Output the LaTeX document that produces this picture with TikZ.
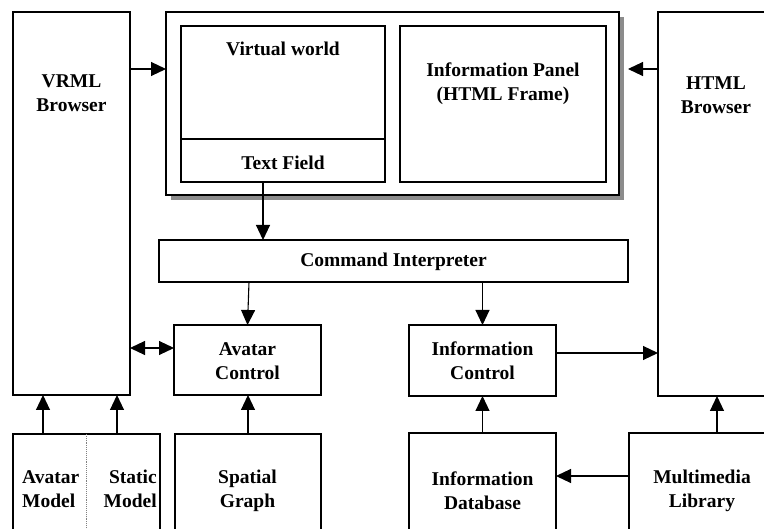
\documentclass[tikz,border=0pt]{standalone}
\usepackage{fontspec}
\setmainfont{Liberation Serif}
\usetikzlibrary{arrows.meta}
\begin{document}
\begin{tikzpicture}[x=1pt,y=-1pt,
  box/.style={draw, line width=1.1pt, inner sep=0pt, outer sep=0pt, fill=white},
  lbl/.style={align=center, inner sep=0pt, font=\bfseries\fontsize{19.5}{24}\selectfont},
  arr/.style={line width=1.1pt, -{Triangle[length=15pt,width=14pt]}},
  darr/.style={line width=1.1pt, {Triangle[length=15pt,width=14pt]}-{Triangle[length=15pt,width=14pt]}}
]
\useasboundingbox (0,0) rectangle (764,529);
\clip (0,0) rectangle (764,529);
% coordinates for connector rows
\coordinate (y69) at (0,69);
\coordinate (y348) at (0,348);
\coordinate (y353) at (0,353);
\coordinate (y476) at (0,476);
% boxes
\node[box, minimum width=117pt, minimum height=383pt] (vrml) at (71.5,203.5) {};
\fill[gray!90] (171,17) rectangle (624,200);
\node[box, minimum width=453pt, minimum height=183pt] (frame) at (392.5,103.5) {};
\node[box, minimum width=204pt, minimum height=156pt] (vw) at (283,104) {};
\node[box, minimum width=204pt, minimum height=43pt] (tf) at (283,160.5) {};
\node[box, minimum width=206pt, minimum height=156pt] (ip) at (503,104) {};
\node[box, minimum width=122pt, minimum height=384pt] (html) at (719,204) {};
\node[box, minimum width=469pt, minimum height=42pt] (ci) at (393.5,261) {};
\node[box, minimum width=147pt, minimum height=70pt] (ac) at (247.5,360) {};
\node[box, minimum width=147pt, minimum height=71pt] (ic) at (482.5,360.5) {};
\node[box, minimum width=147pt, minimum height=111pt] (am) at (86.5,489.5) {};
\node[box, minimum width=146pt, minimum height=111pt] (sg) at (248,489.5) {};
\node[box, minimum width=147pt, minimum height=112pt] (db) at (482.5,489) {};
\node[box, minimum width=151pt, minimum height=112pt] (ml) at (704.5,489) {};
\draw[gray, densely dotted, line width=0.9pt] (am.north) -- (am.south);
% labels
\node[lbl] (tvrml) at (71.5,93) {VRML\\Browser};
\node[lbl] (tvw) at (283,49) {Virtual world};
\node[lbl] (ttf) at (283,163) {Text Field};
\node[lbl] (tip) at (503,84) {Information Panel\\(HTML Frame)};
\node[lbl] (thtml) at (716,95) {HTML\\Browser};
\node[lbl] (tci) at (393.5,262) {Command Interpreter};
\node[lbl] (tac) at (247.5,361) {Avatar\\Control};
\node[lbl] (tic) at (482.5,361) {Information\\Control};
\node[lbl, align=left, anchor=west] (tam) at (22,489) {Avatar\\Model};
\node[lbl, align=right, anchor=east] (tsm) at (157,489) {Static\\Model};
\node[lbl] (tsg) at (247.5,491) {Spatial\\Graph};
\node[lbl] (tdb) at (482.5,491) {Information\\Database};
\node[lbl] (tml) at (702,491) {Multimedia\\Library};
% connectors
\draw[arr] (vrml.east |- y69) -- (frame.west |- y69);
\draw[arr] (html.west |- y69) -- ([xshift=9pt]frame.east |- y69);
\draw[arr] ([xshift=-20pt]tf.south) -- ([xshift=-20pt]tf.south |- ci.north);
\draw[arr] ([xshift=1.5pt]ac.north |- ci.south) -- (ac.north);
\draw[arr] (ic.north |- ci.south) -- (ic.north);
\draw[darr] (vrml.east |- y348) -- (ac.west |- y348);
\draw[arr] (ic.east |- y353) -- (html.west |- y353);
\draw[arr] ([xshift=-43.5pt]am.north) -- ([xshift=-43.5pt]am.north |- vrml.south);
\draw[arr] ([xshift=30.5pt]am.north) -- ([xshift=30.5pt]am.north |- vrml.south);
\draw[arr] (sg.north) -- (sg.north |- ac.south);
\draw[arr] (db.north) -- (ic.south);
\draw[arr] ([xshift=12.5pt]ml.north) -- ([xshift=12.5pt]ml.north |- html.south);
\draw[arr] (ml.west |- y476) -- (db.east |- y476);
\end{tikzpicture}
\end{document}
